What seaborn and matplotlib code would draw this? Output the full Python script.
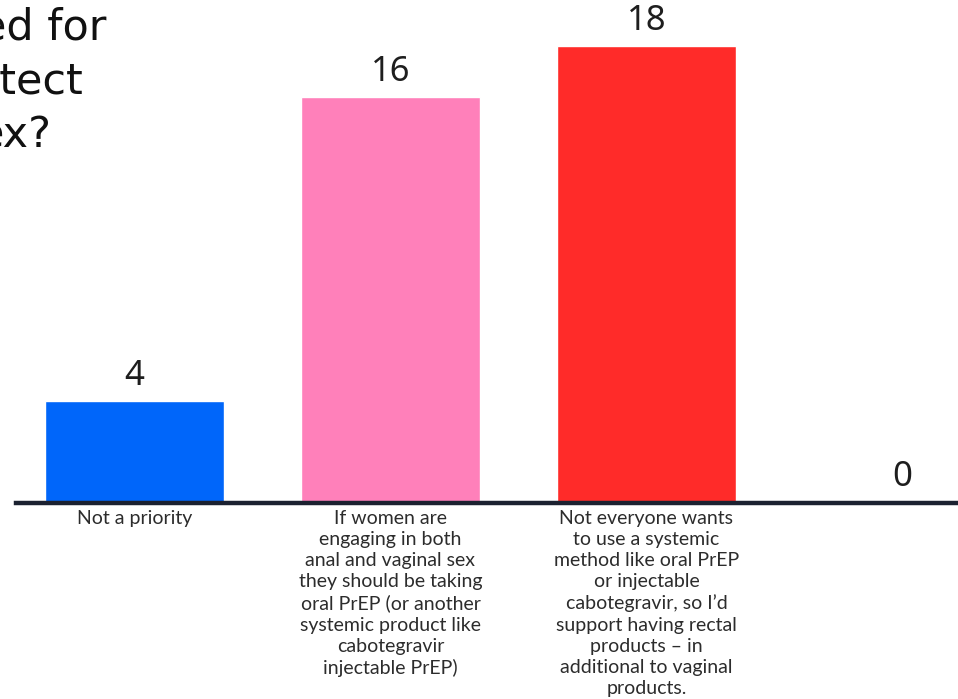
import matplotlib
matplotlib.use("Agg")
import matplotlib.pyplot as plt
import seaborn as sns
import pandas as pd

# Responses and counts
categories = [
    "Not a priority",
    "If women are\nengaging in both\nanal and vaginal sex\nthey should be taking\noral PrEP (or another\nsystemic product like\ncabotegravir\ninjectable PrEP)",
    "Not everyone wants\nto use a systemic\nmethod like oral PrEP\nor injectable\ncabotegravir, so I\u2019d\nsupport having rectal\nproducts \u2013 in\nadditional to vaginal\nproducts.",
    "",
]
counts = [4, 16, 18, 0]
bar_colors = ["#0066FA", "#FF80BA", "#FF2B29", "#999999"]

# Question text (left part runs off the slide)
title_lines = ["ed for", "otect", "ex?"]

W, H = 958, 699
sns.set_theme(style="white")
plt.rcParams["font.family"] = ["DejaVu Sans"]

fig = plt.figure(figsize=(W / 100, H / 100), dpi=100)
fig.patch.set_facecolor("white")

base_px = 502.5
px_per_unit = 25.35
left_px = 16
ax = fig.add_axes([left_px / W, (H - base_px) / H, (W - left_px) / W + 0.01, base_px / H])

df = pd.DataFrame({"response": categories, "count": counts})
sns.barplot(
    data=df, x="response", y="count", hue="response",
    order=categories, hue_order=categories,
    palette=bar_colors, width=0.7, legend=False,
    saturation=1, ax=ax,
)

ax.set_xlim((left_px - 134.5) / 256, (W + 9.6 - 134.5) / 256)
ax.set_ylim(0, base_px / px_per_unit)

for cont in ax.containers:
    ax.bar_label(cont, fmt="%d", padding=6, fontsize=25,
                 color="#1e1e1e", family=["Noto Sans"])

for s in ["top", "right", "left"]:
    ax.spines[s].set_visible(False)
ax.spines["bottom"].set_color("#1b2130")
ax.spines["bottom"].set_linewidth(3.2)
ax.set_yticks([])
ax.set_ylabel("")
ax.set_xlabel("")
ax.tick_params(axis="x", length=0, pad=5.5)
ax.set_xticks(range(len(categories)))
ax.set_xticklabels(categories, fontsize=14, color="#2c2c2c",
                   family=["Lato"], linespacing=1.29, va="top",
                   multialignment="center")
ax.set_facecolor("white")

# Question fragments in the top-left corner
title_right = [107, 83, 52]
title_base = [40, 93, 147]
for txt, xr, yb in zip(title_lines, title_right, title_base):
    fig.text(xr / W, 1 - yb / H, txt, ha="right", va="baseline",
             fontsize=31, color="#111111", family=["DejaVu Sans"])

fig.savefig("out.png", dpi=100, facecolor="white")
